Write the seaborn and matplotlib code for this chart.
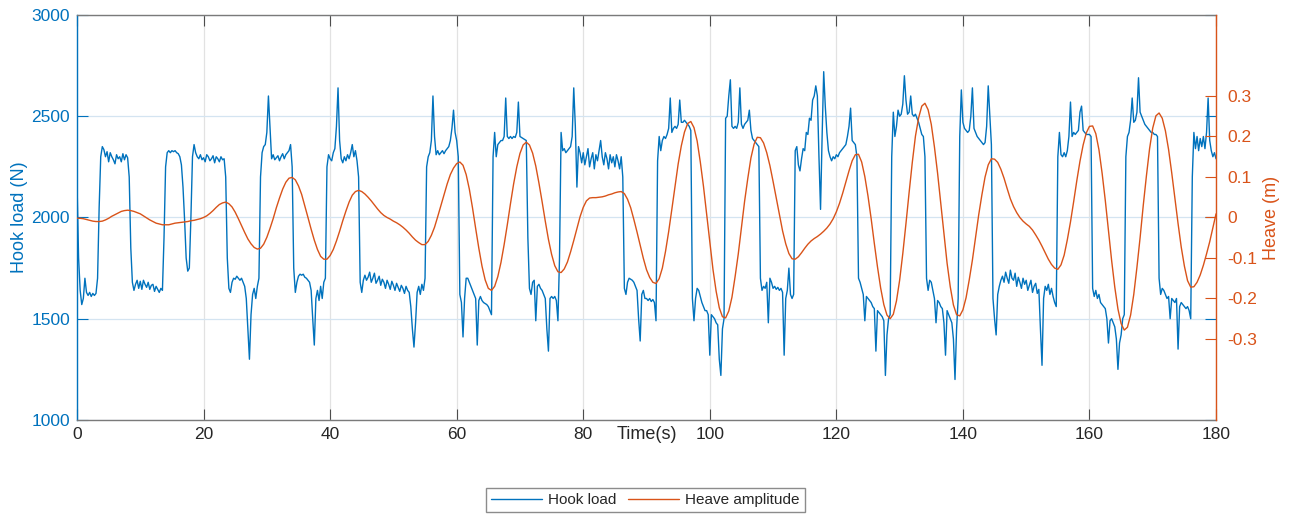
import numpy as np
import matplotlib
matplotlib.use("Agg")
import matplotlib.pyplot as plt
from matplotlib.lines import Line2D
import seaborn as sns

# Hook load (N), one sample every 0.25 s from t = 0 to t = 180 s
hook_step = 0.25
hook_load = [
    2170, 1800, 1640, 1570, 1600, 1700, 1630, 1615, 1630, 1610, 1625, 1615, 1625, 1700, 2050, 2300, 2350, 2335, 2300, 2325,
    2275, 2320, 2300, 2285, 2265, 2310, 2290, 2300, 2275, 2315, 2285, 2310, 2295, 2200, 1850, 1680, 1640, 1670, 1690, 1650,
    1685, 1645, 1690, 1670, 1655, 1680, 1645, 1665, 1670, 1635, 1660, 1645, 1630, 1650, 1640, 1900, 2250, 2320, 2330, 2320,
    2330, 2325, 2330, 2320, 2315, 2300, 2260, 2150, 1990, 1800, 1735, 1750, 2000, 2300, 2360, 2320, 2300, 2290, 2310, 2285,
    2295, 2275, 2310, 2300, 2280, 2290, 2305, 2270, 2300, 2290, 2275, 2300, 2285, 2290, 2200, 1800, 1650, 1630, 1680, 1700,
    1695, 1710, 1700, 1690, 1700, 1680, 1660, 1600, 1450, 1300, 1520, 1620, 1650, 1600, 1660, 1700, 2200, 2320, 2350, 2360,
    2420, 2600, 2450, 2290, 2310, 2285, 2295, 2305, 2280, 2300, 2315, 2290, 2310, 2320, 2330, 2360, 2250, 1750, 1630, 1680,
    1710, 1720, 1715, 1720, 1705, 1700, 1690, 1680, 1640, 1500, 1370, 1600, 1640, 1590, 1660, 1600, 1680, 1700, 2250, 2310,
    2290, 2280, 2320, 2340, 2450, 2640, 2380, 2290, 2270, 2300, 2280, 2310, 2290, 2320, 2360, 2300, 2330, 2280, 2200, 1680,
    1630, 1690, 1715, 1690, 1705, 1730, 1680, 1700, 1725, 1675, 1690, 1710, 1665, 1695, 1680, 1650, 1690, 1670, 1645, 1685,
    1665, 1640, 1675, 1655, 1635, 1665, 1650, 1625, 1660, 1640, 1630, 1560, 1450, 1360, 1480, 1630, 1660, 1620, 1670, 1640,
    1700, 2250, 2300, 2320, 2380, 2600, 2400, 2310, 2330, 2310, 2320, 2330, 2315, 2330, 2340, 2350, 2380, 2440, 2530, 2420,
    2380, 2300, 1620, 1580, 1410, 1600, 1700, 1700, 1680, 1660, 1640, 1620, 1600, 1370, 1590, 1610, 1590, 1580, 1575, 1570,
    1560, 1540, 1520, 2300, 2420, 2300, 2360, 2370, 2380, 2380, 2400, 2590, 2400, 2390, 2400, 2390, 2400, 2395, 2420, 2570,
    2400, 2395, 2390, 2385, 2380, 1900, 1650, 1620, 1680, 1690, 1490, 1660, 1670, 1650, 1640, 1620, 1600, 1450, 1340, 1600,
    1610, 1600, 1610, 1590, 1490, 1800, 2420, 2330, 2340, 2320, 2330, 2340, 2350, 2400, 2640, 2450, 2150, 2350, 2320, 2270,
    2320, 2260, 2300, 2340, 2250, 2290, 2320, 2240, 2310, 2280, 2330, 2380, 2300, 2260, 2320, 2290, 2240, 2310, 2270, 2300,
    2250, 2310, 2280, 2240, 2300, 2200, 1650, 1620, 1680, 1700, 1695, 1690, 1680, 1660, 1640, 1500, 1390, 1620, 1640, 1600,
    1600, 1590, 1600, 1585, 1595, 1580, 1490, 2280, 2400, 2330, 2380, 2400, 2390, 2410, 2440, 2590, 2420, 2440, 2450, 2440,
    2460, 2580, 2470, 2470, 2480, 2470, 2460, 2450, 2430, 1600, 1490, 1600, 1650, 1640, 1610, 1580, 1560, 1540, 1540, 1520,
    1320, 1520, 1510, 1500, 1480, 1470, 1300, 1220, 1450, 1500, 2490, 2500, 2600, 2680, 2450, 2440, 2450, 2440, 2470, 2640,
    2460, 2440, 2460, 2470, 2480, 2530, 2430, 2390, 2380, 2370, 2360, 2350, 1700, 1640, 1660, 1650, 1680, 1480, 1700, 1680,
    1650, 1660, 1645, 1655, 1640, 1650, 1630, 1320, 1600, 1640, 1750, 1620, 1600, 1620, 2330, 2350, 2260, 2230, 2290, 2340,
    2330, 2420, 2410, 2490, 2480, 2580, 2600, 2650, 2600, 2300, 2040, 2400, 2720, 2550, 2420, 2330, 2300, 2280, 2300, 2290,
    2310, 2300, 2320, 2330, 2340, 2350, 2360, 2400, 2450, 2540, 2380, 2370, 2360, 2300, 1700, 1680, 1650, 1620, 1490, 1610,
    1600, 1590, 1580, 1560, 1550, 1340, 1540, 1530, 1520, 1510, 1490, 1220, 1420, 1500, 1520, 2300, 2520, 2400, 2450, 2530,
    2500, 2510, 2560, 2700, 2580, 2510, 2520, 2600, 2510, 2500, 2510, 2490, 2470, 2440, 2410, 2400, 2300, 1700, 1640, 1690,
    1680, 1640, 1600, 1480, 1590, 1580, 1560, 1550, 1480, 1320, 1540, 1520, 1500, 1480, 1400, 1200, 1450, 1600, 2400, 2630,
    2470, 2440, 2430, 2420, 2430, 2500, 2640, 2440, 2420, 2400, 2390, 2380, 2370, 2360, 2370, 2450, 2650, 2500, 2360, 1600,
    1500, 1420, 1620, 1660, 1690, 1710, 1680, 1730, 1700, 1675, 1740, 1700, 1690, 1725, 1660, 1705, 1680, 1650, 1700, 1670,
    1690, 1640, 1665, 1690, 1630, 1660, 1675, 1625, 1645, 1450, 1270, 1600, 1660, 1640, 1670, 1620, 1650, 1610, 1580, 1560,
    2300, 2420, 2310, 2300, 2320, 2300, 2330, 2400, 2570, 2400, 2420, 2410, 2420, 2430, 2520, 2550, 2430, 2420, 2410, 2410,
    2410, 2400, 1650, 1610, 1640, 1600, 1620, 1580, 1570, 1560, 1550, 1500, 1380, 1490, 1500, 1480, 1460, 1400, 1250, 1380,
    1420, 1500, 1520, 2300, 2400, 2420, 2480, 2590, 2470, 2480, 2520, 2690, 2520, 2500, 2480, 2460, 2450, 2440, 2430, 2420,
    2420, 2410, 2410, 2400, 1700, 1620, 1650, 1640, 1620, 1600, 1610, 1500, 1600, 1590, 1580, 1600, 1350, 1560, 1580, 1570,
    1560, 1550, 1560, 1540, 1500, 2200, 2420, 2340, 2400, 2330, 2390, 2350, 2400, 2340, 2420, 2590, 2380, 2330, 2300, 2320,
    2290,
]

# Heave amplitude (m), one sample every 0.5 s from t = 0 to t = 180 s
heave_step = 0.5
heave = [
    -0.002, -0.002, -0.003, -0.005, -0.007, -0.009, -0.010, -0.010, -0.009, -0.006,
    -0.002, 0.003, 0.007, 0.011, 0.015, 0.017, 0.018, 0.017, 0.015, 0.012,
    0.009, 0.004, -0.001, -0.006, -0.010, -0.014, -0.016, -0.018, -0.018, -0.018,
    -0.016, -0.014, -0.013, -0.012, -0.011, -0.010, -0.008, -0.007, -0.005, -0.003,
    0.000, 0.004, 0.010, 0.017, 0.025, 0.032, 0.036, 0.038, 0.034, 0.026,
    0.013, -0.003, -0.020, -0.037, -0.053, -0.065, -0.074, -0.078, -0.076, -0.066,
    -0.049, -0.027, -0.003, 0.024, 0.048, 0.070, 0.087, 0.097, 0.099, 0.093,
    0.078, 0.057, 0.029, 0.000, -0.029, -0.056, -0.079, -0.096, -0.103, -0.103,
    -0.094, -0.079, -0.058, -0.034, -0.008, 0.016, 0.038, 0.055, 0.064, 0.067,
    0.064, 0.058, 0.050, 0.041, 0.031, 0.021, 0.012, 0.005, 0.000, -0.004,
    -0.009, -0.013, -0.018, -0.024, -0.031, -0.039, -0.048, -0.056, -0.062, -0.067,
    -0.067, -0.059, -0.044, -0.024, 0.002, 0.029, 0.056, 0.083, 0.106, 0.122,
    0.133, 0.137, 0.129, 0.106, 0.070, 0.024, -0.027, -0.076, -0.120, -0.154,
    -0.175, -0.180, -0.170, -0.146, -0.111, -0.067, -0.018, 0.034, 0.083, 0.125,
    0.158, 0.179, 0.186, 0.179, 0.159, 0.127, 0.085, 0.039, -0.009, -0.054,
    -0.091, -0.119, -0.134, -0.136, -0.127, -0.110, -0.085, -0.057, -0.027, 0.002,
    0.025, 0.041, 0.048, 0.049, 0.049, 0.050, 0.051, 0.053, 0.056, 0.058,
    0.061, 0.063, 0.064, 0.059, 0.045, 0.024, -0.005, -0.036, -0.069, -0.101,
    -0.129, -0.148, -0.160, -0.163, -0.151, -0.125, -0.084, -0.035, 0.020, 0.077,
    0.132, 0.177, 0.211, 0.232, 0.237, 0.222, 0.189, 0.137, 0.077, 0.009,
    -0.061, -0.128, -0.182, -0.223, -0.245, -0.248, -0.231, -0.197, -0.146, -0.090,
    -0.025, 0.040, 0.096, 0.147, 0.181, 0.198, 0.197, 0.184, 0.160, 0.128,
    0.089, 0.048, 0.006, -0.033, -0.065, -0.089, -0.102, -0.103, -0.097, -0.087,
    -0.076, -0.066, -0.058, -0.052, -0.047, -0.041, -0.034, -0.026, -0.016, -0.003,
    0.014, 0.035, 0.060, 0.088, 0.115, 0.140, 0.155, 0.156, 0.137, 0.101,
    0.053, -0.003, -0.064, -0.122, -0.174, -0.215, -0.241, -0.250, -0.239, -0.206,
    -0.155, -0.089, -0.015, 0.062, 0.136, 0.201, 0.246, 0.275, 0.282, 0.266,
    0.230, 0.174, 0.109, 0.035, -0.041, -0.113, -0.171, -0.216, -0.240, -0.243,
    -0.228, -0.198, -0.154, -0.105, -0.049, 0.007, 0.056, 0.100, 0.130, 0.145,
    0.144, 0.136, 0.119, 0.097, 0.071, 0.046, 0.027, 0.012, 0.000, -0.009,
    -0.016, -0.022, -0.031, -0.043, -0.056, -0.071, -0.087, -0.103, -0.116, -0.125,
    -0.128, -0.117, -0.093, -0.055, -0.011, 0.039, 0.091, 0.139, 0.179, 0.209,
    0.225, 0.226, 0.207, 0.167, 0.109, 0.042, -0.032, -0.106, -0.172, -0.226,
    -0.262, -0.278, -0.271, -0.241, -0.190, -0.123, -0.050, 0.030, 0.103, 0.170,
    0.221, 0.251, 0.258, 0.245, 0.214, 0.168, 0.110, 0.048, -0.015, -0.073,
    -0.120, -0.156, -0.172, -0.171, -0.160, -0.142, -0.118, -0.090, -0.060, -0.026,
    0.009,
]

time_ticks = [0, 20, 40, 60, 80, 100, 120, 140, 160, 180]
load_ticks = [1000, 1500, 2000, 2500, 3000]
heave_ticks = [-0.3, -0.2, -0.1, 0.0, 0.1, 0.2, 0.3]
heave_tick_labels = ["-0.3", "-0.2", "-0.1", "0", "0.1", "0.2", "0.3"]

BLUE = "#0072BD"
ORANGE = "#D95319"
FRAME = "#7a7a7a"
TEXT = "#262626"

sns.set_theme(style="white")
plt.rcParams["font.family"] = ["Liberation Sans", "DejaVu Sans"]

fig = plt.figure(figsize=(12.92, 5.15), dpi=100)
ax = fig.add_axes([0.0596, 0.1845, 0.8816, 0.7864])

t_hook = np.arange(len(hook_load)) * hook_step
t_heave = np.arange(len(heave)) * heave_step

sns.lineplot(x=t_hook, y=hook_load, ax=ax, color=BLUE, linewidth=1.0,
             estimator=None, sort=False)
ax.set_xlim(0, 180)
ax.set_ylim(1000, 3000)
ax.set_xticks(time_ticks)
ax.set_yticks(load_ticks)
ax.grid(True, axis="x", color="#e2e2e2", linewidth=0.9)
ax.grid(True, axis="y", color="#d4e4f1", linewidth=0.9)
ax.set_axisbelow(True)

ax2 = ax.twinx()
sns.lineplot(x=t_heave, y=heave, ax=ax2, color=ORANGE, linewidth=1.0,
             estimator=None, sort=False)
ax2.set_ylim(-0.5, 0.5)
ax2.set_yticks(heave_ticks)
ax2.set_yticklabels(heave_tick_labels)

# frame
for side in ("top", "bottom"):
    ax.spines[side].set_color(FRAME)
    ax.spines[side].set_linewidth(1.0)
ax.spines["left"].set_color(BLUE)
ax.spines["left"].set_linewidth(1.0)
ax.spines["right"].set_visible(False)
for side in ("top", "bottom", "left"):
    ax2.spines[side].set_visible(False)
ax2.spines["right"].set_color(ORANGE)
ax2.spines["right"].set_linewidth(1.0)

ax.tick_params(axis="x", direction="in", length=8, width=0.8, color="#4d4d4d",
               labelcolor=TEXT, labelsize=12.5, top=True, bottom=True, pad=5)
ax.tick_params(axis="y", direction="in", length=8, width=0.8, color=BLUE,
               labelcolor=BLUE, labelsize=12.5, left=True, right=True, pad=5)
ax2.tick_params(axis="y", direction="in", length=8, width=0.8, color=ORANGE,
                labelcolor=ORANGE, labelsize=12.5, right=True, pad=8)

ax.set_xlabel("Time(s)", fontsize=13, color=TEXT)
ax.set_ylabel("Hook load (N)", fontsize=13, color=BLUE)
ax2.set_ylabel("Heave (m)", fontsize=13, color=ORANGE)
ax.xaxis.set_label_coords(0.5, -0.014)
ax.yaxis.set_label_coords(-0.043, 0.5)
ax2.yaxis.set_label_coords(1.0416, 0.5)

handles = [Line2D([], [], color=BLUE, linewidth=1.0),
           Line2D([], [], color=ORANGE, linewidth=1.0)]
fig.legend(handles, ["Hook load", "Heave amplitude"], loc="center",
           bbox_to_anchor=(0.4995, 0.029), ncol=2, fontsize=11,
           frameon=True, fancybox=False, edgecolor="#8c8c8c",
           handlelength=3.3, handletextpad=0.4, columnspacing=0.8,
           borderpad=0.35, framealpha=1.0)

fig.savefig("out.png", dpi=100)
